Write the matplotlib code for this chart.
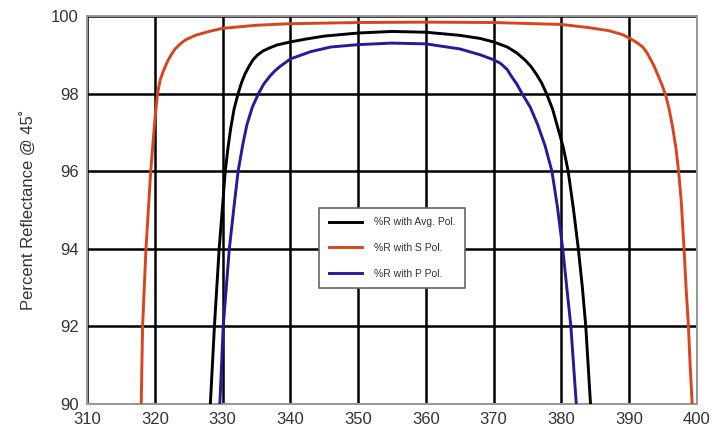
import matplotlib
matplotlib.use("Agg")
import matplotlib.pyplot as plt

plt.rcParams['font.family'] = ['Liberation Sans Narrow', 'Liberation Sans', 'DejaVu Sans']

# S polarisation
s_wl = [318.0, 318.2, 318.7, 319.4, 320.0, 320.4, 320.8, 321.2, 321.6, 322.0, 322.5, 323.0,
        323.7, 324.5, 326.0, 328.0, 330.0, 335.0, 340.0, 350.0, 360.0, 370.0, 380.0, 384.0,
        387.0, 389.0, 390.0, 391.0, 392.0, 392.6, 393.1, 393.7, 394.3, 394.9, 395.4, 395.9,
        396.4, 396.9, 397.3, 397.7, 398.1, 398.4, 398.75, 399.0, 399.3]
s_r = [90.0, 92.0, 94.0, 96.0, 97.3, 98.0, 98.35, 98.55, 98.72, 98.87, 99.02, 99.15,
       99.27, 99.38, 99.5, 99.6, 99.68, 99.76, 99.8, 99.83, 99.84, 99.83, 99.78, 99.7,
       99.62, 99.52, 99.43, 99.33, 99.2, 99.06, 98.9, 98.7, 98.45, 98.2, 97.95, 97.6,
       97.15, 96.6, 96.0, 95.2, 94.0, 93.0, 92.0, 91.0, 90.0]

# average polarisation
avg_wl = [328.2, 328.8, 329.5, 330.0, 330.4, 330.8, 331.2, 331.7, 332.3, 332.8, 333.3, 333.9,
          334.5, 335.2, 336.0, 337.0, 338.0, 340.0, 342.5, 345.0, 350.0, 355.0, 360.0, 365.0,
          368.0, 370.0, 372.0, 373.4, 374.6, 375.5, 376.3, 377.1, 377.8, 378.7, 379.5, 380.3,
          381.0, 381.8, 382.5, 383.1, 383.6, 384.3]
avg_r = [90.0, 92.0, 94.0, 95.1, 96.0, 96.6, 97.1, 97.6, 98.0, 98.28, 98.5, 98.7,
         98.87, 99.0, 99.1, 99.18, 99.25, 99.33, 99.41, 99.48, 99.56, 99.6, 99.58, 99.5,
         99.42, 99.33, 99.2, 99.05, 98.87, 98.7, 98.5, 98.27, 98.0, 97.6, 97.1, 96.6,
         96.0, 95.0, 94.0, 93.0, 92.0, 90.0]

# P polarisation
p_wl = [329.6, 330.1, 331.0, 331.7, 332.3, 333.0, 333.6, 334.4, 335.3, 336.1, 337.0, 337.7,
        338.5, 340.0, 343.0, 346.0, 350.0, 355.0, 360.0, 365.0, 368.0, 370.0, 371.0, 372.0,
        372.6, 373.4, 374.2, 375.4, 376.5, 377.6, 378.6, 379.4, 380.2, 380.8, 381.4, 382.2]
p_r = [90.0, 92.0, 94.0, 95.1, 96.0, 96.7, 97.2, 97.65, 98.0, 98.25, 98.45, 98.58,
       98.7, 98.89, 99.08, 99.2, 99.26, 99.3, 99.28, 99.15, 99.0, 98.87, 98.78, 98.62,
       98.45, 98.25, 98.0, 97.65, 97.2, 96.65, 96.0, 95.1, 94.0, 93.0, 92.0, 90.0]

x_ticks = [310, 320, 330, 340, 350, 360, 370, 380, 390, 400]
y_ticks = [90, 92, 94, 96, 98, 100]

fig = plt.figure(figsize=(7.15, 4.4), dpi=100)
ax = fig.add_axes([0.1217, 0.0818, 0.853, 0.882])

ax.plot(avg_wl, avg_r, color='black', lw=2.1, label='%R with Avg. Pol.', zorder=3)
ax.plot(s_wl, s_r, color='#d8441c', lw=2.1, label='%R with S Pol.', zorder=3)
ax.plot(p_wl, p_r, color='#28189a', lw=2.1, label='%R with P Pol.', zorder=3)

ax.set_xlim(310, 400)
ax.set_ylim(90, 100)
ax.set_xticks(x_ticks)
ax.set_yticks(y_ticks)
ax.grid(True, color='black', lw=1.8)
ax.set_axisbelow(True)
ax.tick_params(length=0, labelsize=12, colors='#333333', pad=6)
for s in ax.spines.values():
    s.set_color('#999999')
    s.set_linewidth(1.4)

ax.set_ylabel('Percent Reflectance @ 45˚', fontsize=12, color='#333333', labelpad=10)

leg = ax.legend(loc='center', bbox_to_anchor=(0.367, 0.286, 0.267, 0.232),
                fontsize=7.5, frameon=True, fancybox=False, labelspacing=1.5,
                handlelength=3.2, handletextpad=1.2, borderpad=0.9)
leg.get_frame().set_edgecolor('#666666')
leg.get_frame().set_linewidth(1.2)
leg.get_frame().set_alpha(1)
for t in leg.get_texts():
    t.set_color('#333333')

fig.savefig('out.png', dpi=100)
